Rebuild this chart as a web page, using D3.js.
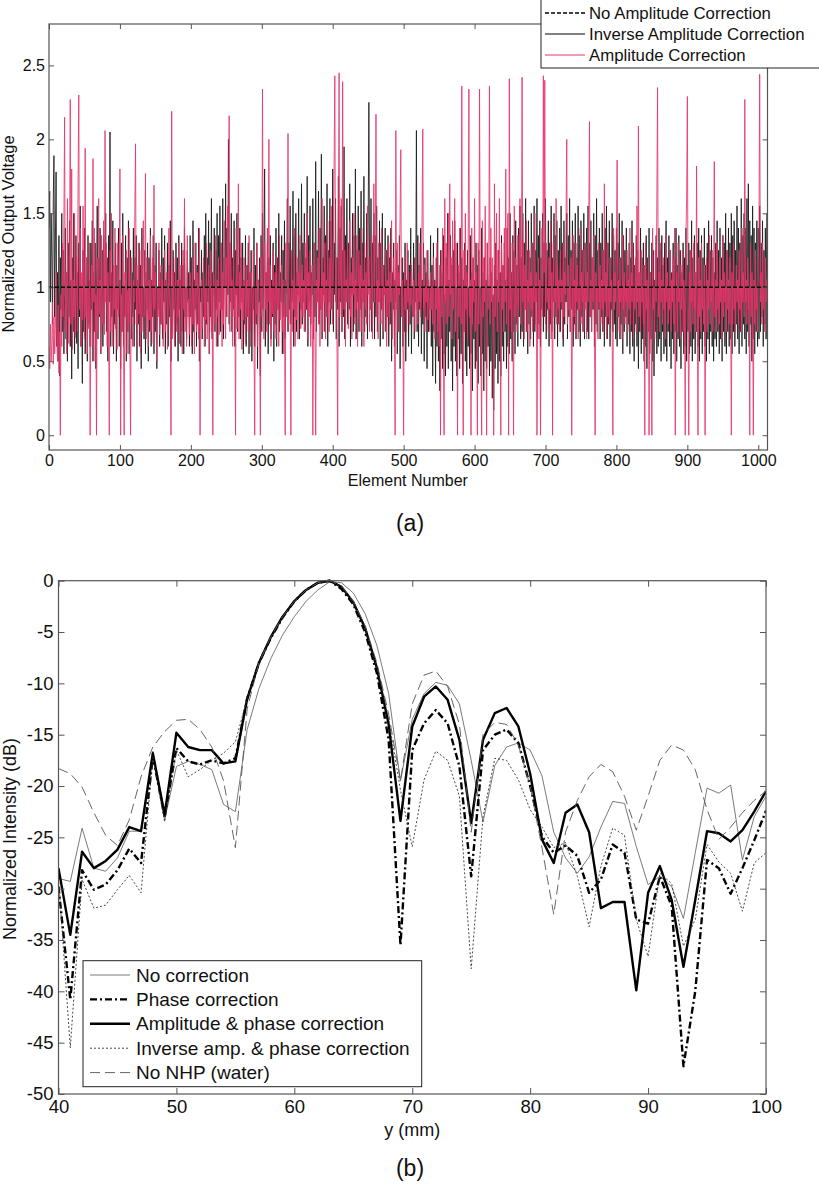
<!DOCTYPE html>
<html><head><meta charset="utf-8">
<script src="https://cdn.jsdelivr.net/npm/d3@7"></script>
<style>body{margin:0;background:#fff}svg{display:block}text{font-family:"Liberation Sans",Arial,sans-serif;fill:#111}</style>
</head><body><svg id="c" width="819" height="1187"></svg>
<script>
// ---------- Panel (a) data ----------
const aLegend = ["No Amplitude Correction","Inverse Amplitude Correction","Amplitude Correction"];
const aXTicks = [0,100,200,300,400,500,600,700,800,900,1000];
const aYTicks = [0,0.5,1,1.5,2,2.5];
const noAmp = [1,1];
const ampCorr = [
.6,.45,.75,.5,.62,.9,.48,.8,.55,.72,1.1,.65,.5,.88,.42,.7,0,.95,.6,1.3,
.8,1.45,2.15,.7,1.1,.55,1.6,.9,.62,1.25,2.27,.75,1.8,.58,1.05,.8,1.5,.66,.95,1.2,
.7,1.72,2.3,.85,1.4,.6,1.1,.78,1.55,.9,.65,1.94,.8,1.2,.55,1.0,.72,1.3,0,.85,
1.15,.6,1.87,.9,1.4,.5,.95,0,1.2,.7,1.6,.82,1.05,.55,1.35,.75,.95,1.45,.68,2.06,
.9,1.3,.6,1.1,.8,0,1.25,.7,1.5,.92,.6,1.15,.85,1.4,.72,1.0,.58,1.3,.8,1.1,
1.8,0,.95,.7,1.35,.62,0,1.1,.8,1.25,.55,.98,.75,1.4,.68,0,1.2,.85,.6,1.05,
.9,1.5,1.97,.75,1.15,.6,1.3,.82,1.0,.55,1.25,.7,.95,1.45,.8,1.1,1.77,.65,1.2,.88,
.6,1.05,.78,1.35,.7,.95,1.2,.62,1.69,.85,1.1,.72,.5,1.0,.8,1.3,.68,.9,1.15,.75,
1.05,.6,.85,1.25,.7,.95,1.1,.58,.8,1.4,.9,.75,0,2.19,.65,1.1,.82,.6,1.2,.9,
.7,1.05,.8,1.3,.62,.95,1.15,.75,.55,1.25,.85,1.6,.7,1.0,.6,1.35,.8,.92,.68,1.1,
.85,.6,1.2,.75,1.0,.55,1.3,.82,.7,1.1,.9,.65,1.4,0,.8,1.05,.72,.95,1.2,.6,
1.0,.78,1.3,.65,.9,1.15,.55,.85,1.25,.7,1.0,0,1.1,.75,.92,1.35,.6,1.05,.8,1.2,
.68,1.0,.85,1.3,.6,1.1,.75,1.45,.9,.65,1.2,.8,1.55,1.0,2.16,.7,1.3,.85,1.05,.6,
1.25,.8,1.0,0,1.4,.72,.95,1.7,.65,1.1,.85,1.3,.58,1.0,.78,1.2,.9,.62,1.15,.8,
1.05,.7,1.35,.85,.6,1.1,.95,.75,1.25,.68,0,1.0,.82,1.3,.6,1.05,.9,.72,0,1.2,
.8,2.34,1.0,.65,1.3,.85,1.1,.7,1.4,.9,2.0,.75,1.15,.6,1.0,.82,1.25,.7,.95,1.1,
.65,1.2,.85,1.0,.6,1.35,.78,.95,1.15,.7,1.05,.55,.9,0,1.3,.8,1.1,2.04,.75,1.0,
.9,0,1.25,.7,1.05,.85,1.4,.6,1.0,.78,1.2,.65,1.1,.9,1.35,.72,.95,1.15,.8,1.05,
.7,1.3,.85,1.0,1.5,.65,1.1,.8,1.25,.6,.95,1.15,0,.85,1.3,.7,0,1.05,.9,1.2,
.75,1.4,.6,1.0,.85,1.6,.7,1.1,.9,1.3,.65,1.05,.8,1.45,.95,.7,1.2,.85,1.55,1.0,
.75,1.3,1.85,2.43,.9,1.2,.65,0,1.4,2.45,.8,1.1,1.6,.7,2.39,1.0,.85,1.25,.6,1.05,
.9,1.3,.72,1.0,1.45,.8,1.1,.65,1.2,.95,1.5,.75,1.05,.85,1.35,.6,1.0,1.25,.8,1.15,
.7,1.4,.9,1.05,.6,1.3,.85,1.1,.75,1.55,.95,1.2,.7,1.0,.85,1.35,.65,1.1,1.7,.9,
1.2,2.17,.8,1.05,.65,1.3,.9,1.0,.75,1.4,.85,1.15,.7,1.0,.95,1.25,.6,1.05,.8,1.3,
.75,1.1,.9,1.45,.65,1.0,1.2,.8,0,2.06,.85,1.3,.7,1.1,.95,1.5,1.93,.8,1.05,.65,
0,1.2,.85,1.0,.7,1.3,.9,1.1,.75,1.0,.88,1.15,.95,.8,1.05,.9,.7,1.2,.85,1.0,
.75,1.1,.9,1.3,.8,1.0,1.5,2.07,.85,1.15,.7,1.0,.9,1.25,.78,1.05,.95,.7,1.1,.85,
1.0,.75,1.2,.9,.65,1.05,.85,1.3,.7,1.0,.6,1.15,0,1.25,.8,1.4,.7,0,1.6,.9,
1.3,.75,1.1,1.5,.8,1.7,.95,1.2,.65,1.45,.85,1.0,1.6,.7,1.3,.9,0,1.15,.8,1.4,
1.0,.75,2.36,.9,0,1.25,.7,1.5,.85,1.1,.65,1.3,2.34,.8,1.05,0,1.4,.75,1.2,.9,
1.6,.7,1.1,.85,0,1.3,.75,2.34,1.0,.6,0,1.45,.8,1.2,.9,1.55,.7,0,1.3,.85,
1.1,2.36,.75,1.4,.9,1.2,.65,0,1.7,.8,1.05,1.5,.7,1.25,.9,1.6,.75,0,1.3,.85,
1.15,.7,1.4,.9,1.8,.75,1.2,1.5,0,2.41,.85,1.1,.7,1.3,.9,0,1.55,.8,1.2,.95,
.7,1.35,.85,1.1,1.6,.75,1.0,2.42,.9,1.3,.65,1.15,.85,1.45,.7,1.05,.9,1.25,.6,1.1,
.85,1.3,.7,1.0,.9,1.5,.75,1.1,0,.85,1.2,.65,1.05,0,.9,1.4,.8,2.43,1.1,2.4,
.75,1.3,.9,1.0,.7,1.2,.85,1.45,.65,1.1,0,1.3,.8,1.0,.9,1.6,.75,1.15,.85,1.05,
.7,1.25,.9,1.05,.65,1.3,.8,1.1,.95,1.5,2.0,.75,1.15,.85,1.0,.7,1.2,0,.9,1.35,
.8,1.05,.7,1.3,.9,1.15,.65,1.0,.85,1.4,.75,1.1,.9,1.25,.7,1.0,.85,1.3,.65,1.1,
.9,1.45,2.12,.8,1.05,.7,1.2,.9,1.35,.75,0,1.1,.85,1.0,.65,1.3,.9,1.15,.75,1.05,
.85,1.25,.7,1.7,.9,1.1,.65,1.3,.8,1.0,.75,1.2,.9,1.05,.7,0,1.4,.85,1.1,.9,
1.3,1.86,.8,1.05,.7,1.2,.9,1.0,.65,1.35,.85,1.1,.75,1.0,.9,1.25,.7,1.05,.85,1.4,
.75,1.1,.9,1.3,.65,1.0,.85,1.2,.7,1.55,.9,2.09,.8,1.1,.7,1.25,.9,1.0,.75,1.15,
0,1.3,.85,1.05,.7,1.2,0,.9,1.1,.75,0,1.4,.85,1.0,.65,1.25,.9,1.6,2.35,.8,
1.1,.7,1.3,.9,1.05,.75,1.2,.85,1.0,.65,1.35,.9,1.1,.75,1.0,.85,1.25,.7,1.05,.9,
1.2,.75,1.4,0,.85,1.1,.7,1.3,.9,1.0,.65,1.15,.85,1.25,.7,1.05,.9,0,1.35,1.6,
2.29,.8,0,1.1,.7,1.25,.9,1.0,.75,1.3,.85,1.1,.7,1.82,.9,0,1.2,.8,1.05,.7,
1.3,.85,1.0,.75,1.15,0,.9,1.2,.7,1.05,.85,1.35,.75,1.0,.9,1.25,.7,1.1,1.85,.8,
1.05,.7,1.3,.85,1.0,.75,1.2,.9,1.05,.65,1.35,.8,1.1,.9,1.0,.7,1.25,.85,1.05,.75,
1.2,.9,0,1.1,.75,1.3,.85,1.0,.7,1.15,.9,1.05,.75,1.25,.85,1.0,.7,1.4,.9,1.1,
.8,2.27,.9,1.05,.75,1.2,.85,1.0,0,1.3,.8,1.1,.9,0,1.05,.75,1.25,.85,1.0,.7,
1.15,1.4,2.44,.9,1.1,.75,1.3,.85,1.0,.7,1.2,.9,1.05];
const invAmp = [
1.4,1.65,.9,1.5,1.2,.75,1.6,1.89,.8,1.3,1.78,.6,1.1,.5,1.35,.4,1.2,.85,1.5,.7,
1.25,.55,.95,1.4,.65,1.1,.5,1.3,.8,1.45,.6,1.05,.38,1.2,.7,1.5,.55,.9,1.35,.62,
1.1,.45,1.3,.8,1.55,.6,1.0,.35,1.25,.7,1.4,.55,.95,1.2,.5,1.35,.75,1.05,.6,1.3,
.85,1.45,.5,1.1,.7,1.3,.45,1.0,1.55,.65,1.2,.8,1.4,.55,.9,1.25,.6,1.35,.75,1.1,
1.5,.7,1.2,.5,1.35,.9,2.05,.6,1.1,.8,1.45,.55,1.0,.75,1.3,.5,1.15,.85,1.4,.6,
1.05,.45,1.3,.7,1.5,.6,1.0,.8,1.35,.5,1.2,.7,1.45,.55,.95,1.25,.65,1.1,.8,1.4,
.6,1.2,.85,1.35,.5,1.05,.75,1.3,.6,1.15,.45,1.4,.8,1.0,.65,1.25,.55,1.1,.85,1.3,
.5,1.2,.7,1.4,.6,1.05,.8,1.35,.55,1.15,.7,1.3,.45,1.0,.85,1.25,.6,1.1,.75,1.4,
.65,1.2,.9,1.35,.55,1.05,.75,1.3,.6,1.15,.8,1.45,.5,1.0,.7,1.25,.85,1.1,.6,1.3,
.75,1.2,.5,1.35,.85,1.05,.6,1.3,.7,1.15,.55,1.4,.8,1.0,.65,1.25,.9,1.1,.6,1.35,
.8,1.2,.55,1.45,.7,1.05,.85,1.3,.6,1.15,.75,1.4,.5,1.0,.9,1.25,.65,1.1,.8,1.35,
.6,1.5,.75,1.2,.9,1.45,.55,1.3,.8,1.6,.65,1.1,.95,1.4,.7,1.25,.85,1.5,.6,1.35,
.9,1.55,.7,1.3,.85,1.6,.65,1.2,1.0,1.7,.8,1.4,.95,2.0,.75,1.3,.9,1.5,.7,1.2,
.85,1.45,.6,1.25,.95,1.5,.7,1.15,.8,1.4,.65,1.2,.9,1.3,.55,1.05,.75,1.35,.6,1.15,
.8,1.3,.55,1.1,.7,1.25,.5,1.0,.85,1.4,.6,1.15,.75,1.3,.45,1.05,.9,1.2,.4,1.35,
.7,1.5,.85,1.25,1.8,.6,1.1,.75,1.4,.55,1.2,.9,1.35,.65,1.05,.8,1.3,.5,1.15,.75,
1.4,.6,1.2,.85,1.5,.7,1.1,.9,1.35,.55,1.25,.8,1.45,.65,1.05,.95,1.6,.7,1.3,.85,
1.55,.75,1.2,.9,1.65,.6,1.35,.8,1.5,.7,1.1,.95,1.6,.65,1.25,.85,1.7,.75,1.3,.9,
1.5,.7,1.2,.85,1.75,.6,1.35,.9,1.55,.75,1.1,.95,1.6,.65,1.3,.8,1.85,.7,1.25,.9,
1.65,.75,1.4,.85,1.9,.65,1.2,.95,1.55,.7,1.35,.8,1.7,.6,1.25,.9,1.6,.75,1.45,.85,
1.8,.7,1.3,.95,1.6,.65,1.2,.85,1.75,.6,1.4,.9,1.55,.7,1.25,.8,1.95,.65,1.35,.9,
1.6,.75,1.3,.85,1.7,.6,1.2,.95,1.5,.7,1.35,.8,1.8,.65,1.25,.9,1.55,.7,1.4,.85,
1.65,.6,1.3,.9,1.75,.7,1.2,.8,1.5,.65,1.45,2.25,1.1,.85,1.6,.7,1.3,.9,1.5,.65,
1.35,.8,1.55,.7,1.2,.9,1.45,.6,1.3,.85,1.5,.65,1.15,.95,1.4,.7,1.25,.8,1.35,.6,
1.2,.75,1.4,.5,1.1,.85,1.3,.6,1.05,.9,1.25,.55,1.15,.7,1.35,.45,1.0,.8,1.2,.6,
1.1,.7,1.3,.5,1.05,.85,1.25,.6,1.15,.75,1.4,.55,1.0,.8,1.3,.65,1.2,.9,2.06,.7,
1.35,.6,1.15,.85,1.4,.55,1.05,.75,1.3,.5,1.2,.8,1.1,.45,1.25,.7,1.0,.85,1.35,.6,
1.15,.4,1.3,.7,1.05,.35,1.2,.6,1.4,.5,1.0,.3,1.25,.65,1.1,.45,1.35,.55,.95,.4,
1.2,.6,1.5,.45,1.05,.7,1.35,.5,1.15,.3,1.25,.6,1.45,.5,1.0,.4,1.3,.65,1.1,.45,
1.4,.55,1.2,.35,1.05,.7,1.3,.5,1.15,.4,1.25,.6,1.0,.45,1.35,.55,1.1,.3,1.2,.65,
1.05,.45,1.3,.5,1.15,.35,1.25,.6,1.0,.4,1.4,.55,1.1,.3,1.2,.5,1.05,.45,1.3,.6,
1.0,.4,1.2,.5,1.1,.25,.95,.17,1.15,.45,1.3,.55,1.05,.35,1.25,.5,1.1,.4,1.35,.6,
1.15,.5,1.3,.7,1.05,.45,1.4,.6,1.2,.55,1.5,.65,1.1,.5,1.35,.7,1.25,.55,1.45,.75,
1.15,.6,1.4,.8,1.55,.65,1.2,.7,1.5,.6,1.3,.85,1.6,.7,1.25,.55,1.45,.75,1.2,.65,
1.5,.8,1.3,.6,1.55,.7,1.25,.9,1.6,.65,1.35,.75,1.45,.6,1.2,.85,1.5,.7,1.3,.8,
1.6,.65,1.25,.85,1.45,.6,1.3,.75,1.55,.7,1.2,.9,1.5,.65,1.35,.8,1.45,.6,1.25,.75,
1.4,.7,1.55,.85,1.3,.6,1.45,.75,1.2,.9,1.5,.65,1.35,.8,1.6,.7,1.25,.85,1.45,.6,
1.3,.75,1.5,.65,1.2,.85,1.55,.7,1.35,.6,1.45,.8,1.25,.7,1.5,.65,1.3,.9,1.4,.7,
1.55,.65,1.3,.8,1.45,.7,1.2,.85,1.5,.6,1.35,.75,1.6,.7,1.25,.85,1.4,.65,1.3,.8,
1.5,.7,1.25,.6,1.4,.8,1.55,.65,1.3,.75,1.45,.6,1.2,.85,1.5,.7,1.35,.75,1.25,.65,
1.4,.6,1.3,.8,1.5,.65,1.2,.75,1.45,.55,1.35,.7,1.25,.8,1.4,.6,1.15,.75,1.3,.55,
1.2,.7,1.45,.6,1.3,.5,1.15,.75,1.35,.6,1.25,.45,1.1,.7,1.4,.55,1.2,.65,1.3,.5,
1.15,.6,1.35,.45,1.2,.7,1.4,.55,1.1,.65,1.3,.5,1.25,.4,1.05,.7,1.35,.55,1.2,.6,
1.4,.65,1.25,.5,1.35,.7,1.15,.55,1.3,.6,1.45,.5,1.2,.7,1.35,.6,1.25,.45,1.1,.65,
1.3,.55,1.2,.7,1.4,.5,1.15,.65,1.35,.6,1.25,.45,1.1,.7,1.3,.55,1.2,.6,1.4,.5,
1.15,.7,1.3,.55,1.25,.6,1.45,.5,1.2,.65,1.35,.55,1.1,.7,1.3,.6,1.4,.5,1.25,.65,
1.35,.55,1.2,.7,1.4,.6,1.15,.5,1.3,.65,1.45,.55,1.25,.7,1.35,.6,1.2,.5,1.1,.65,
1.3,.6,1.45,.7,1.25,.55,1.4,.65,1.2,.5,1.35,.7,1.3,.6,1.5,.55,1.25,.7,1.4,.6,
1.3,.65,1.5,.55,1.35,.7,1.45,.6,1.25,.75,1.55,.65,1.4,.55,1.3,.7,1.6,.6,1.35,.75,
1.5,.65,1.4,.55,1.6,.7,1.7,.6,1.45,.75,1.35,.5,1.55,.65,1.4,.55,1.3,.7,1.45,.6,
1.4,.65,1.55,.7,1.3,.8,1.45,.6,1.25,.75,1.4,.65,1.5];

// ---------- Panel (b) data ----------
const bLegend = ["No correction","Phase correction","Amplitude & phase correction","Inverse amp. & phase correction","No NHP (water)"];
const bXTicks = [40,50,60,70,80,90,100];
const bYTicks = [-50,-45,-40,-35,-30,-25,-20,-15,-10,-5,0];
const yMM = [40,41,42,43,44,45,46,47,48,49,50,51,52,53,54,55,56,57,58,59,60,61,62,63,64,65,66,67,68,69,70,71,72,73,74,75,76,77,78,79,80,81,82,83,84,85,86,87,88,89,90,91,92,93,94,95,96,97,98,99,100];
const noCorr = [-29,-29.3,-24.1,-28,-28.3,-27,-24.4,-24.4,-16.6,-23.3,-18.1,-17.6,-17.9,-18.4,-21.8,-22.5,-14.5,-10.5,-7.6,-5.3,-3.5,-2,-0.9,-0.1,-0.2,-1.2,-3.2,-6.3,-11,-19.5,-13.5,-11,-9.9,-10.2,-12,-17.5,-23.5,-18,-16.2,-15.8,-16.5,-19,-24.5,-27,-28.5,-26.9,-24,-21.5,-21.7,-25.9,-29.6,-28.8,-29.8,-32.9,-26.5,-20.2,-20.7,-19.9,-27.2,-23,-21];
const phaseCorr = [-29.8,-40.8,-28.2,-30.1,-29.6,-28.2,-26.1,-27.5,-17.1,-23,-16.3,-17.6,-17.9,-17.5,-17.8,-17.3,-11.5,-8,-5.6,-3.6,-2,-0.9,-0.2,0,-0.8,-2.3,-5,-9,-15.5,-35.5,-16.5,-13.9,-12.6,-13.9,-18.1,-28.8,-16.5,-15,-14.5,-15.8,-20,-24.9,-26.5,-25.8,-26.8,-30.4,-29.1,-25.7,-26.5,-33,-33.4,-28.8,-31.7,-47.3,-40,-27.2,-28,-30.5,-28,-25.3,-22.4];
const ampPhase = [-28,-34.5,-26.4,-28,-27.3,-26.2,-24,-24.4,-16.8,-22.8,-14.8,-16.2,-16.5,-16.5,-17.8,-17.6,-11.5,-8,-5.5,-3.5,-2,-0.9,-0.2,0,-0.6,-2.1,-4.6,-8.5,-14,-23.4,-14.2,-11.3,-10.3,-11.6,-15.5,-23.6,-15.5,-12.9,-12.4,-14.2,-18.8,-25.2,-27.5,-22.6,-21.8,-24.5,-31.9,-31.3,-31.3,-39.9,-30.4,-27.8,-31.1,-37.6,-31.1,-24.4,-24.6,-25.4,-24.3,-22.5,-20.5];
const invPhase = [-29,-45.5,-29.1,-31.9,-31.6,-30.1,-28.7,-30.4,-17.2,-23.5,-16.5,-19.1,-18.4,-17.5,-16.8,-15.7,-11.5,-8,-5.5,-3.5,-2,-0.9,-0.2,0,-0.6,-2.2,-4.8,-8.5,-13.5,-20.4,-25.9,-19.4,-16.6,-17.5,-21,-37.8,-23,-17.3,-17.5,-19.4,-22.3,-24,-26,-25.5,-28.8,-33.7,-27.8,-24.1,-24.8,-33,-36.6,-28.5,-29.5,-35.6,-33,-25.7,-27.4,-28.5,-32.2,-27.5,-26.5];
const water = [-18.3,-18.8,-20.1,-22.6,-24.8,-25.8,-23.3,-19.1,-16.2,-14.7,-13.6,-13.5,-14.5,-16.2,-19.5,-26,-12.5,-8,-5.5,-3.5,-2,-0.9,-0.2,0,-0.5,-2,-4.4,-8,-13,-19.5,-12,-9.2,-8.8,-10.3,-14,-24.5,-15,-13.8,-14,-16,-20,-26,-32.5,-24.5,-21.4,-19.1,-17.9,-18.6,-21,-24.3,-21,-17.5,-16,-16.5,-18.4,-22.3,-25.2,-24,-22.6,-21.4,-20.5];

const svg = d3.select("#c");
const AX = "#555";
const plain = d => String(d);

function boxAxes(g, x, y, xt, yt, fs, tickLen, xPad, yPad){
  const [x0,x1]=x.range(), [y0,y1]=y.range();
  g.append("g").attr("transform",`translate(0,${y0})`)
    .call(d3.axisBottom(x).tickValues(xt).tickSize(-tickLen).tickSizeOuter(0).tickPadding(xPad).tickFormat(plain))
    .call(s=>{s.select(".domain").remove();s.selectAll("line").attr("stroke",AX);s.selectAll("text").attr("font-size",fs).attr("fill","#111");});
  g.append("g").attr("transform",`translate(0,${y1})`)
    .call(d3.axisTop(x).tickValues(xt).tickSize(-tickLen).tickSizeOuter(0).tickFormat(""))
    .call(s=>{s.select(".domain").remove();s.selectAll("line").attr("stroke",AX);});
  g.append("g").attr("transform",`translate(${x0},0)`)
    .call(d3.axisLeft(y).tickValues(yt).tickSize(-tickLen).tickSizeOuter(0).tickPadding(yPad).tickFormat(plain))
    .call(s=>{s.select(".domain").remove();s.selectAll("line").attr("stroke",AX);s.selectAll("text").attr("font-size",fs).attr("fill","#111");});
  g.append("g").attr("transform",`translate(${x1},0)`)
    .call(d3.axisRight(y).tickValues(yt).tickSize(-tickLen).tickSizeOuter(0).tickFormat(""))
    .call(s=>{s.select(".domain").remove();s.selectAll("line").attr("stroke",AX);});
  g.append("rect").attr("x",x0).attr("y",y1).attr("width",x1-x0).attr("height",y0-y1)
    .attr("fill","none").attr("stroke",AX).attr("stroke-width",1.2);
}

// ---------- Panel (a) ----------
{
  const xA = d3.scaleLinear().domain([0,1013]).range([49,767.5]);
  const yA = d3.scaleLinear().domain([-0.1,2.78]).range([450,24]);
  const g = svg.append("g");
  g.append("clipPath").attr("id","ca").append("rect").attr("x",49).attr("y",24).attr("width",718.5).attr("height",426);
  const line = d3.line().x((d,i)=>xA(i)).y(d=>yA(d));
  const pg = g.append("g").attr("clip-path","url(#ca)");
  pg.append("path").attr("d",line(invAmp)).attr("fill","none").attr("stroke","#1a1a1a").attr("stroke-width",1).attr("stroke-opacity",0.85);
  pg.append("path").attr("d",line(ampCorr)).attr("fill","none").attr("stroke","#e8356a").attr("stroke-width",1).attr("stroke-opacity",0.85);
  pg.append("path").attr("d",d3.line().x((d,i)=>xA(i*1013)).y(d=>yA(d))(noAmp)).attr("fill","none").attr("stroke","#000").attr("stroke-width",1.5).attr("stroke-dasharray","4,2");
  boxAxes(g,xA,yA,aXTicks,aYTicks,16,5,5,4);
  g.append("text").attr("x",xA(506)).attr("y",486).attr("text-anchor","middle").attr("font-size",16).text("Element Number");
  g.append("text").attr("transform","translate(14,234) rotate(-90)").attr("text-anchor","middle").attr("font-size",16.5).text("Normalized Output Voltage");
  // legend
  const lg = g.append("g");
  lg.append("rect").attr("x",541).attr("y",-1).attr("width",290).attr("height",69).attr("fill","#fff").attr("stroke","#222").attr("stroke-width",1);
  const st = [{c:"#000",w:1.6,d:"4,2"},{c:"#000",w:1,d:null},{c:"#e8356a",w:1,d:null}];
  aLegend.forEach((t,i)=>{
    const yy = 13+i*21;
    const l = lg.append("line").attr("x1",545).attr("x2",585).attr("y1",yy).attr("y2",yy).attr("stroke",st[i].c).attr("stroke-width",st[i].w);
    if(st[i].d) l.attr("stroke-dasharray",st[i].d);
    lg.append("text").attr("x",589).attr("y",yy+6).attr("font-size",16.8).text(t);
  });
}
svg.append("text").attr("x",410).attr("y",531).attr("text-anchor","middle").attr("font-family","'Open Sans',sans-serif").attr("font-size",23).text("(a)");

// ---------- Panel (b) ----------
{
  const xB = d3.scaleLinear().domain([40,100]).range([58.5,766]);
  const yB = d3.scaleLinear().domain([-50,0]).range([1094,580.7]);
  const g = svg.append("g");
  g.append("clipPath").attr("id","cb").append("rect").attr("x",58.5).attr("y",578).attr("width",707.5).attr("height",518);
  const line = d3.line().x((d,i)=>xB(yMM[i])).y(d=>yB(d));
  const styles = [
    {data:noCorr,c:"#6b6b6b",w:0.9,d:null},
    {data:phaseCorr,c:"#000",w:2.4,d:"7,3,2,3"},
    {data:ampPhase,c:"#000",w:2.4,d:null},
    {data:invPhase,c:"#333",w:0.9,d:"2,2"},
    {data:water,c:"#555",w:0.9,d:"10,5"}
  ];
  const pg = g.append("g").attr("clip-path","url(#cb)");
  styles.forEach(s=>{
    const p = pg.append("path").attr("d",line(s.data)).attr("fill","none").attr("stroke",s.c).attr("stroke-width",s.w).attr("stroke-linejoin","round");
    if(s.d) p.attr("stroke-dasharray",s.d);
  });
  boxAxes(g,xB,yB,bXTicks,bYTicks,18.5,6,6,5);
  g.append("text").attr("x",xB(70)).attr("y",1136).attr("text-anchor","middle").attr("font-size",18).text("y (mm)");
  g.append("text").attr("transform","translate(16,839) rotate(-90)").attr("text-anchor","middle").attr("font-size",18).text("Normalized Intensity (dB)");
  const lg = g.append("g");
  lg.append("rect").attr("x",83).attr("y",960.7).attr("width",338.7).attr("height",126).attr("fill","#fff").attr("stroke","#222").attr("stroke-width",1);
  bLegend.forEach((t,i)=>{
    const yy = 975+i*24.4;
    const s = styles[i];
    const l = lg.append("line").attr("x1",90).attr("x2",130).attr("y1",yy).attr("y2",yy).attr("stroke",s.c).attr("stroke-width",s.w);
    if(s.d) l.attr("stroke-dasharray",s.d);
    lg.append("text").attr("x",136).attr("y",yy+6.5).attr("font-size",19).text(t);
  });
}
svg.append("text").attr("x",410).attr("y",1176).attr("text-anchor","middle").attr("font-family","'Open Sans',sans-serif").attr("font-size",23).text("(b)");
</script></body></html>
